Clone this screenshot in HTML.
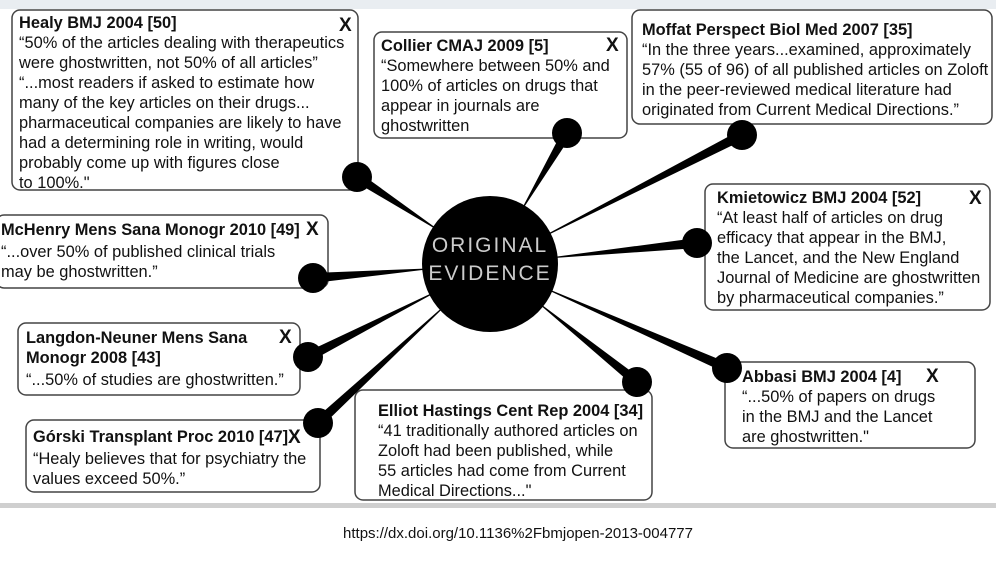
<!DOCTYPE html>
<html><head><meta charset="utf-8"><style>
html,body{margin:0;padding:0;background:#fff;width:996px;height:561px;overflow:hidden}
svg{display:block}
text{font-family:"Liberation Sans",Arial,sans-serif;font-size:16.4px;fill:#111}
.b{font-weight:bold}
.x{font-weight:bold;font-size:19px}
rect.box{fill:#fff;stroke:#444;stroke-width:1.5}
</style></head><body>
<svg id="s" width="996" height="561" viewBox="0 0 996 561">
<rect x="0" y="0" width="996" height="9" fill="#e9edf1"/>
<rect x="0" y="503" width="996" height="5" fill="#cfcfcf"/>
<text x="518" y="538" text-anchor="middle" style="font-size:15px">https://dx.doi.org/10.1136%2Fbmjopen-2013-004777</text>

<rect class="box" x="12" y="10" width="346" height="180" rx="8"/>
<rect class="box" x="374" y="32" width="253" height="106" rx="8"/>
<rect class="box" x="632" y="10" width="360" height="114" rx="8"/>
<rect class="box" x="-4" y="215" width="332" height="73" rx="8"/>
<rect class="box" x="705" y="184" width="285" height="126" rx="8"/>
<rect class="box" x="18" y="323" width="282" height="72" rx="8"/>
<rect class="box" x="725" y="362" width="250" height="86" rx="8"/>
<rect class="box" x="26" y="420" width="294" height="72" rx="8"/>
<rect class="box" x="355" y="390" width="297" height="110" rx="8"/>

<g id="w" fill="#000">
<circle cx="357" cy="177" r="15"/>
<circle cx="567" cy="133" r="15"/>
<circle cx="742" cy="135" r="15"/>
<circle cx="313" cy="278" r="15"/>
<circle cx="697" cy="243" r="15"/>
<circle cx="308" cy="357" r="15"/>
<circle cx="318" cy="423" r="15"/>
<circle cx="637" cy="382" r="15"/>
<circle cx="727" cy="368" r="15"/>
</g>
<circle cx="490" cy="264" r="68" fill="#000"/>
<text x="490" y="252" text-anchor="middle" style="font-size:21px;fill:#ccc;letter-spacing:2px">ORIGINAL</text>
<text x="490" y="280" text-anchor="middle" style="font-size:21px;fill:#ccc;letter-spacing:2px">EVIDENCE</text>

<text class="b" x="19" y="28">Healy BMJ 2004 [50]</text>
<text class="x" x="339" y="31">X</text>
<text x="19" y="48">“50% of the articles dealing with therapeutics</text>
<text x="19" y="68">were ghostwritten, not 50% of all articles”</text>
<text x="19" y="88">“...most readers if asked to estimate how</text>
<text x="19" y="108">many of the key articles on their drugs...</text>
<text x="19" y="128">pharmaceutical companies are likely to have</text>
<text x="19" y="148">had a determining role in writing, would</text>
<text x="19" y="168">probably come up with figures close</text>
<text x="19" y="188"> to 100%."</text>
<text class="b" x="381" y="51">Collier CMAJ 2009 [5]</text>
<text class="x" x="606" y="51">X</text>
<text x="381" y="71">“Somewhere between 50% and</text>
<text x="381" y="91">100% of articles on drugs that</text>
<text x="381" y="111">appear in journals are</text>
<text x="381" y="131">ghostwritten</text>
<text class="b" x="642" y="35">Moffat Perspect Biol Med 2007 [35]</text>
<text x="642" y="55">“In the three years...examined, approximately</text>
<text x="642" y="75">57% (55 of 96) of all published articles on Zoloft</text>
<text x="642" y="95">in the peer-reviewed medical literature had</text>
<text x="642" y="115">originated from Current Medical Directions.”</text>
<text class="b" x="1" y="235">McHenry Mens Sana Monogr 2010 [49]</text>
<text class="x" x="306" y="235">X</text>
<text x="1" y="257">“...over 50% of published clinical trials</text>
<text x="1" y="277">may be ghostwritten.”</text>
<text class="b" x="717" y="203">Kmietowicz BMJ 2004 [52]</text>
<text class="x" x="969" y="204">X</text>
<text x="717" y="223">“At least half of articles on drug</text>
<text x="717" y="243">efficacy that appear in the BMJ,</text>
<text x="717" y="263">the Lancet, and the New England</text>
<text x="717" y="283">Journal of Medicine are ghostwritten</text>
<text x="717" y="303">by pharmaceutical companies.”</text>
<text class="b" x="26" y="343">Langdon-Neuner Mens Sana</text>
<text class="x" x="279" y="343">X</text>
<text class="b" x="26" y="363">Monogr 2008 [43]</text>
<text x="26" y="385">“...50% of studies are ghostwritten.”</text>
<text class="b" x="742" y="382">Abbasi BMJ 2004 [4]</text>
<text class="x" x="926" y="382">X</text>
<text x="742" y="402">“...50% of papers on drugs</text>
<text x="742" y="422">in the BMJ and the Lancet</text>
<text x="742" y="442">are ghostwritten."</text>
<text class="b" x="33" y="442">Górski Transplant Proc 2010 [47]</text>
<text class="x" x="288" y="443">X</text>
<text x="33" y="464">“Healy believes that for psychiatry the</text>
<text x="33" y="484">values exceed 50%.”</text>
<text class="b" x="378" y="416">Elliot Hastings Cent Rep 2004 [34]</text>
<text x="378" y="436">“41 traditionally authored articles on</text>
<text x="378" y="456">Zoloft had been published, while</text>
<text x="378" y="476">55 articles had come from Current</text>
<text x="378" y="496">Medical Directions..."</text>
</svg>
<script>
var g=document.getElementById('w'),cx=490,cy=264;
[[357,177],[567,133],[742,135],[313,278],[697,243],[308,357],[318,423],[637,382],[727,368]].forEach(function(d){
var dx=d[0]-cx,dy=d[1]-cy,L=Math.sqrt(dx*dx+dy*dy),ux=dx/L,uy=dy/L,nx=-uy,ny=ux,a=0.6,b=5;
var sx=cx+ux*66,sy=cy+uy*66;
var p=document.createElementNS('http://www.w3.org/2000/svg','polygon');
p.setAttribute('points',[(sx+nx*a)+','+(sy+ny*a),(sx-nx*a)+','+(sy-ny*a),(d[0]-nx*b)+','+(d[1]-ny*b),(d[0]+nx*b)+','+(d[1]+ny*b)].join(' '));
g.insertBefore(p,g.firstChild);});
</script>
</body></html>
